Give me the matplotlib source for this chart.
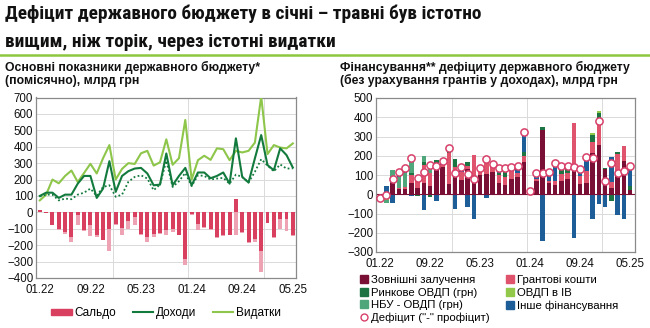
import os
import matplotlib
matplotlib.use("Agg")
import matplotlib.pyplot as plt
from matplotlib.patches import Patch
from matplotlib.lines import Line2D
from matplotlib import font_manager as fm
import numpy as np

# ---------------- data ----------------
months = ["01.22", "09.22", "05.23", "01.24", "09.24", "05.25"]
tick_idx = [0, 8, 16, 24, 32, 40]

vydatky = [73, 108, 200, 177, 222, 255, 185, 240, 296, 237, 330, 410,
           200, 265, 300, 295, 360, 375, 285, 305, 445, 290, 330, 563,
           200, 318, 345, 320, 390, 385, 318, 375, 365, 375, 425, 706,
           355, 410, 395, 390, 420]
dokhody = [100, 120, 120, 88, 108, 108, 175, 222, 222, 88, 145, 312,
           125, 222, 251, 267, 271, 237, 165, 169, 359, 165, 222, 271,
           165, 243, 243, 208, 222, 243, 175, 451, 216, 182, 329, 471,
           288, 257, 390, 349, 273]
dokhody_no_grants = [97, 108, 108, 73, 84, 80, 108, 120, 145, 100, 155, 165,
                     95, 108, 186, 216, 226, 206, 135, 170, 315, 155, 190, 240,
                     160, 226, 222, 200, 206, 210, 175, 230, 216, 182, 247, 324,
                     285, 250, 292, 267, 268]
saldo = [15, -3, -75, -100, -122, -150, -15, -110, -75, -140, -167, -100,
         -70, -95, -55, -30, -130, -150, -130, -126, -110, -100, -137, -284,
         -10, -70, -90, -104, -150, -140, -137, 82, -120, -182, -160, -233,
         -63, -150, -40, -43, -140]
saldo_no_grants = [15, -3, -75, -110, -130, -180, -80, -115, -145, -148, -167, -237,
                   -75, -140, -100, -75, -135, -178, -150, -130, -137, -120, -140, -320,
                   -15, -106, -95, -110, -155, -145, -140, -140, -125, -185, -182, -365,
                   -65, -155, -100, -116, -145]

ext = [0, 0, 60, 25, 25, 60, 35, 60, 45, 135, 140, 55,
       100, 75, 130, 80, 100, 105, 115, 60, 47, 80, 90, 165,
       15, 70, 334, 60, 50, 70, 80, 130, 55, 60, 215, 255,
       130, 35, 100, 175, 20]
grants = [0, 0, 0, 10, 15, 40, 62, 90, 65, 15, 10, 160,
          40, 40, 15, 125, 38, 55, 25, 40, 43, 40, 20, 35,
          0, 10, 0, 10, 20, 35, 30, 240, 40, 60, 55, 120,
          0, 30, 110, 75, 0]
market = [0, 0, 10, 0, 0, 10, -10, 20, -15, 30, 0, 15,
          45, 0, 25, 0, 0, 30, 20, 10, 25, 25, 0, 20,
          -5, 0, 17, 0, 0, 25, 20, 0, 0, 0, 40, 45,
          5, -33, 8, 0, 25]
fx = [0, -30, 0, 0, 0, 0, 0, 0, 0, 0, 0, 0,
      0, 0, 0, 0, 0, 10, 0, 0, 0, 0, 0, 0,
      0, 0, 0, 0, 0, 0, 15, 0, 0, 0, 10, 10,
      0, 0, 0, 0, 0]
nbu = [0, -15, 55, 55, 70, 90, 0, 30, 30, 0, 0, 15,
       0, 0, 0, 0, 0, 0, 0, 0, 0, 0, 0, 0,
       0, 0, 0, 0, 0, 0, 0, 0, 0, 0, 0, 0,
       0, 0, 0, 0, 0]
other = [-17, 45, -48, 25, 25, -10, 0, -83, 25, -35, 25, 0,
         -78, 30, -66, -127, 0, -20, 0, 25, 20, 0, 36, 100,
         5, 35, -245, 40, 90, 20, 0, -228, 35, 75, -130, -49,
         -65, 128, -110, -130, 100]
deficit = [-17, -2, 78, 113, 134, 186, 87, 116, 151, 146, 172, 242,
           108, 143, 104, 78, 137, 183, 157, 134, 134, 143, 146, 322,
           17, 110, 110, 113, 160, 148, 148, 143, 130, 195, 190, 381,
           70, 160, 108, 120, 146]

title_lines = ["Дефіцит державного бюджету в січні – травні був істотно",
               "вищим, ніж торік, через істотні видатки"]
sub_left = ["Основні показники державного бюджету*", "(помісячно), млрд грн"]
sub_right = ["Фінансування** дефіциту державного бюджету",
             "(без урахування грантів у доходах), млрд грн"]

# ---------------- fonts ----------------
names = {f.name for f in fm.fontManager.ttflist}
base_font = "Liberation Sans" if "Liberation Sans" in names else "DejaVu Sans"
plt.rcParams["font.family"] = [base_font, "DejaVu Sans"]


def _w(f):
    w = f.weight
    if isinstance(w, str):
        return {"bold": 700, "heavy": 800, "black": 900, "semibold": 600,
                "demibold": 600, "normal": 400, "regular": 400}.get(w.lower(), 400)
    return int(w)


def find_condensed_bold():
    prefs = ["liberation sans narrow", "liberation sans", "roboto condensed", "roboto",
             "open sans condensed", "open sans", "noto sans", "dejavu sans condensed", "dejavu sans"]
    best = None
    for f in fm.fontManager.ttflist:
        nm = f.name.lower()
        fn = os.path.basename(f.fname).lower()
        cond = ("narrow" in nm or "condensed" in nm or "narrow" in fn or "condensed" in fn
                or str(f.stretch).lower() in ("condensed", "semi-condensed", "extra-condensed"))
        if not cond or _w(f) < 600 or "italic" in fn or "oblique" in fn or f.style != "normal":
            continue
        rank = None
        for k, p in enumerate(prefs):
            if nm == p or nm.startswith(p):
                rank = k
                break
        if rank is None:
            continue
        score = (rank, abs(_w(f) - 700))
        if best is None or score < best[0]:
            best = (score, f.fname)
    return best[1] if best else None


cfile = find_condensed_bold()
if cfile:
    title_fp = fm.FontProperties(fname=cfile)
else:
    title_fp = fm.FontProperties(family=base_font, weight="bold")

C_SALDO = "#D9405F"
C_SALDO_L = "#EDA3B3"
C_DOKH = "#137A3E"
C_VYD = "#8DC64A"
C_EXT = "#7A0F35"
C_GRANT = "#E0536C"
C_MARKET = "#1C7442"
C_FX = "#92C94A"
C_NBU = "#4FA67B"
C_OTHER = "#1D5D98"
C_GRID = "#DADADA"
C_SPINE = "#8A8A8A"

fig = plt.figure(figsize=(6.5, 3.28), dpi=100)
W, H = 650, 328
renderer = fig.canvas.get_renderer()


def fx_(x):
    return x / W


def fy_(y):
    return 1 - y / H


def fit_text(x, y, s, target_w, size0, **kw):
    t = fig.text(fx_(x), fy_(y), s, fontsize=size0, va="baseline", ha="left", color="#111111", **kw)
    w = t.get_window_extent(renderer).width
    t.set_fontsize(size0 * target_w / w)
    return t.get_fontsize()


# title (two lines, fitted to the reference width)
ts = fit_text(5, 19, title_lines[0], 478, 14, fontproperties=title_fp)
fig.text(fx_(5), fy_(47), title_lines[1], fontproperties=title_fp, fontsize=ts,
         va="baseline", ha="left", color="#111111")
fig.add_artist(Line2D([0, 1], [fy_(54.5), fy_(54.5)], color="#8DC63F", lw=1.8, transform=fig.transFigure))

ss = fit_text(5, 70.5, sub_left[0], 257, 8.5, fontweight="bold")
fig.text(fx_(5), fy_(84.5), sub_left[1], fontsize=ss, fontweight="bold", va="baseline", ha="left", color="#111111")
fig.text(fx_(340), fy_(70.5), sub_right[0], fontsize=ss, fontweight="bold", va="baseline", ha="left", color="#111111")
fig.text(fx_(340), fy_(84.5), sub_right[1], fontsize=ss, fontweight="bold", va="baseline", ha="left", color="#111111")

x = np.arange(len(vydatky))


def style_ax(ax):
    for s in ax.spines.values():
        s.set_color(C_SPINE)
        s.set_linewidth(0.9)
    ax.tick_params(axis="both", length=0, labelsize=8.3, colors="#111111")
    ax.tick_params(axis="y", pad=2)
    ax.tick_params(axis="x", pad=4.5)
    ax.set_xticks(tick_idx)
    ax.set_xticklabels(months)
    ax.set_axisbelow(True)
    ax.grid(axis="y", color=C_GRID, lw=0.7)
    for v in [11.5, 23.5, 35.5]:
        ax.axvline(v, color=C_GRID, lw=0.7, zorder=0)


# ---------------- left chart ----------------
ax1 = fig.add_axes([fx_(36), fy_(278), (296 - 36) / W, (278 - 97.5) / H])
style_ax(ax1)
ax1.bar(x, saldo_no_grants, width=0.62, color=C_SALDO_L, zorder=2)
ax1.bar(x, saldo, width=0.62, color=C_SALDO, zorder=3)
ax1.plot(x, vydatky, color=C_VYD, lw=1.5, zorder=4)
ax1.plot(x, dokhody_no_grants, color=C_DOKH, lw=1.3, ls=(0, (1, 1.3)), zorder=5)
ax1.plot(x, dokhody, color=C_DOKH, lw=1.5, zorder=6)
ax1.set_ylim(-400, 700)
ax1.set_yticks(range(-400, 701, 100))
ax1.set_xlim(-0.6, 40.5)

h1 = [Patch(color=C_SALDO), Line2D([], [], color=C_DOKH, lw=1.5), Line2D([], [], color=C_VYD, lw=1.5)]
fig.legend(h1, ["Сальдо", "Доходи", "Видатки"], loc="center", bbox_to_anchor=(fx_(166), fy_(313)),
           ncol=3, frameon=False, fontsize=8.5, handlelength=1.75, handleheight=0.45,
           columnspacing=1.4, handletextpad=0.2, borderpad=0, borderaxespad=0)

# ---------------- right chart ----------------
ax2 = fig.add_axes([fx_(376), fy_(252), (635 - 376) / W, (252 - 98) / H])
style_ax(ax2)
comps = [(ext, C_EXT), (grants, C_GRANT), (market, C_MARKET), (fx, C_FX), (nbu, C_NBU), (other, C_OTHER)]
pos_base = np.zeros(len(x))
neg_base = np.zeros(len(x))
for vals, col in comps:
    v = np.array(vals, dtype=float)
    p = np.where(v > 0, v, 0)
    n = np.where(v < 0, v, 0)
    ax2.bar(x, p, bottom=pos_base, width=0.72, color=col, zorder=2)
    ax2.bar(x, n, bottom=neg_base, width=0.72, color=col, zorder=2)
    pos_base += p
    neg_base += n
ax2.axhline(0, color="#7A0F35", lw=0.8, zorder=2.5)
ax2.plot(x, deficit, ls="none", marker="o", ms=5.2, mfc="white", mec="#D8406A", mew=1.1, zorder=4)
ax2.set_ylim(-300, 500)
ax2.set_yticks(range(-300, 501, 100))
ax2.set_xlim(-0.65, 40.8)

sq = dict(marker="s", ls="none", ms=6)
h2 = [Line2D([], [], color=C_EXT, **sq), Line2D([], [], color=C_MARKET, **sq),
      Line2D([], [], color=C_NBU, **sq),
      Line2D([], [], ls="none", marker="o", ms=5, mfc="white", mec="#D8406A", mew=1.0),
      Line2D([], [], color=C_GRANT, **sq), Line2D([], [], color=C_FX, **sq),
      Line2D([], [], color=C_OTHER, **sq)]
l2 = ["Зовнішні залучення", "Ринкове ОВДП (грн)", "НБУ - ОВДП (грн)", "Дефіцит (\"-\" профіцит)",
      "Грантові кошти", "ОВДП в ІВ", "Інше фінансування"]
fig.legend(h2, l2, loc="upper left", bbox_to_anchor=(fx_(359), fy_(275)), ncol=2, frameon=False,
           fontsize=8.2, handlelength=0.8, handletextpad=0.25, columnspacing=1.4,
           labelspacing=0.22, borderaxespad=0, borderpad=0)

fig.savefig("out.png", dpi=100)
